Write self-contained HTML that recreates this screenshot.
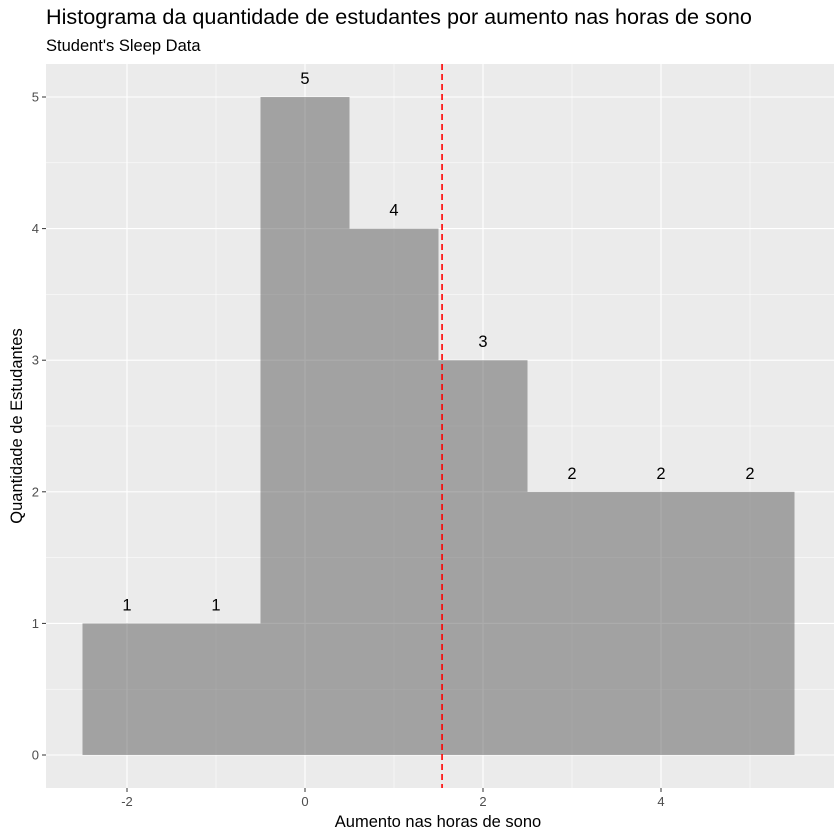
<!DOCTYPE html>
<html><head><meta charset="utf-8"><style>
html,body{margin:0;padding:0;background:#fff;width:840px;height:840px;overflow:hidden}
svg{display:block}
svg text{font-family:"Liberation Sans",sans-serif}
</style></head><body>
<svg id="c" width="840" height="840" xmlns="http://www.w3.org/2000/svg">
<rect width="840" height="840" fill="#fff"/>
<text x="46" y="24" font-size="21.6" fill="#000">Histograma da quantidade de estudantes por aumento nas horas de sono</text>
<text x="46" y="51" font-size="16.5" fill="#000">Student's Sleep Data</text>
<rect x="46" y="64" width="788" height="724" fill="#ebebeb"/>
<g id="grid"></g><g id="bars"></g><g id="labels"></g><g id="axes"></g>
<text x="438" y="827" font-size="16.5" text-anchor="middle">Aumento nas horas de sono</text>
<text transform="translate(22,426) rotate(-90)" font-size="16.5" text-anchor="middle">Quantidade de Estudantes</text>
</svg>
<script>
const centers=[-2,-1,0,1,2,3,4,5];
const counts=[1,1,5,4,3,2,2,2];
const xTicks=[-2,0,2,4];
const yTicks=[0,1,2,3,4,5];
const meanValue=1.54;
const NS="http://www.w3.org/2000/svg";
const x=v=>305+(v)*89;
const y=v=>755-v*131.6;
function mk(t,a,p){const e=document.createElementNS(NS,t);for(const k in a)e.setAttribute(k,a[k]);document.getElementById(p).appendChild(e);return e;}
for(let v=-2.5;v<=5.25;v+=0.5){const e=mk('line',{x1:46,x2:834,y1:y(v),y2:y(v),stroke:'#fff','stroke-width':Number.isInteger(v)?1.1:0.5},'grid');

}
for(let v=-2;v<=5;v+=1){const e=mk('line',{x1:x(v),x2:x(v),y1:64,y2:788,stroke:'#fff','stroke-width':v%2===0?1.1:0.5},'grid');

}
centers.forEach((c,i)=>{
const b=mk('rect',{x:x(c-0.5),y:y(counts[i]),width:x(c+0.5)-x(c-0.5),height:y(0)-y(counts[i]),fill:'#595959','fill-opacity':0.5},'bars');


const t=mk('text',{x:x(c),y:y(counts[i])-13,'font-size':16.5,'text-anchor':'middle'},'labels');t.textContent=counts[i];


});
const m=mk('line',{x1:x(meanValue),x2:x(meanValue),y1:64,y2:788,stroke:'#f00','stroke-width':1.6,'stroke-dasharray':'6,4'},'labels');


xTicks.forEach(v=>{mk('line',{x1:x(v),x2:x(v),y1:788,y2:792,stroke:'#333'},'axes');
const t=mk('text',{x:x(v),y:806,'font-size':13,fill:'#4d4d4d','text-anchor':'middle'},'axes');t.textContent=v;

});
yTicks.forEach(v=>{mk('line',{x1:42,x2:46,y1:y(v),y2:y(v),stroke:'#333'},'axes');
const t=mk('text',{x:39,y:y(v)+4.5,'font-size':13,fill:'#4d4d4d','text-anchor':'end'},'axes');t.textContent=v;

});
</script>
</body></html>
